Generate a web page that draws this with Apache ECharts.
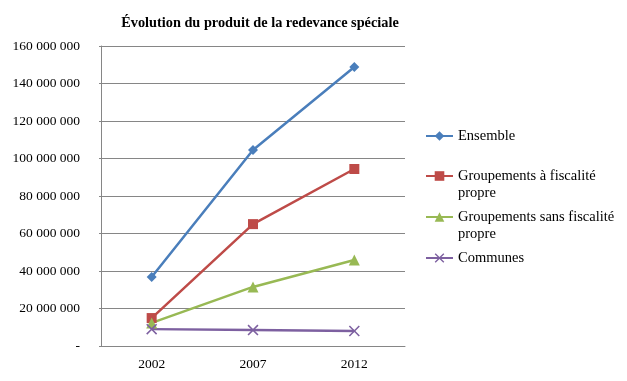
<!DOCTYPE html>
<html><head><meta charset="utf-8">
<script src="https://cdn.jsdelivr.net/npm/echarts@6/dist/echarts.min.js"></script>
<style>html,body{margin:0;padding:0;background:#fff}#c{width:627px;height:381px}</style>
</head><body><div id="c"></div>
<script>
const categories = ['2002', '2007', '2012'];
const seriesNames = ['Ensemble', 'Groupements à fiscalité propre', 'Groupements sans fiscalité propre', 'Communes'];
const legendLabels = ['Ensemble', '\nGroupements à fiscalité\npropre', '\nGroupements sans fiscalité\npropre', 'Communes'];
const ensemble = [36800000, 104500000, 148800000];
const groupementsFP = [14900000, 65000000, 94400000];
const groupementsSFP = [12300000, 31500000, 45900000];
const communes = [9000000, 8500000, 8000000];

const colors = ['#4A7EBB', '#BE4B48', '#98B954', '#7D60A0'];
const symbols = ['diamond', 'rect', 'triangle', 'path://M0,1L1,0L5,4L9,0L10,1L6,5L10,9L9,10L5,6L1,10L0,9L4,5Z'];
const symbolSizes = [10, 10, 11, 11];
const values = [ensemble, groupementsFP, groupementsSFP, communes];
const font = 'Liberation Serif';

function fmt(v) {
  if (v === 0) return '-';
  return String(v).replace(/\B(?=(\d{3})+(?!\d))/g, ' ');
}

const legendTops = [122.5, 145.5, 186.5, 244.5];
const chart = echarts.init(document.getElementById('c'));
chart.setOption({
  animation: false,
  title: {
    text: 'Évolution du produit de la redevance spéciale',
    left: 255, textAlign: 'center', top: 11,
    textStyle: { fontFamily: font, fontSize: 14.3, fontWeight: 'bold', color: '#000' }
  },
  legend: seriesNames.map((n, i) => ({
    left: 420, top: legendTops[i], orient: 'vertical',
    itemWidth: 27, itemHeight: 12, selectedMode: false,
    data: [{ name: n }],
    formatter: () => legendLabels[i],
    textStyle: { fontFamily: font, fontSize: 14.5, color: '#000', lineHeight: 17 }
  })),
  grid: { left: 101, right: 222, top: 46, bottom: 35 },
  xAxis: {
    type: 'category', data: categories, boundaryGap: true,
    axisLine: { lineStyle: { color: '#868686', width: 1 } },
    axisTick: { show: false },
    axisLabel: { fontFamily: font, fontSize: 13.5, color: '#000', margin: 11 }
  },
  yAxis: {
    type: 'value', min: 0, max: 160000000, interval: 20000000,
    axisLine: { show: true, lineStyle: { color: '#868686', width: 1 } },
    axisTick: { show: true, length: 2, lineStyle: { color: '#868686' } },
    splitLine: { lineStyle: { color: '#868686', width: 1 } },
    axisLabel: { fontFamily: font, fontSize: 13.5, color: '#000', margin: 21, formatter: fmt }
  },
  series: seriesNames.map((n, i) => ({
    name: n, type: 'line', data: values[i],
    symbol: symbols[i], symbolSize: symbolSizes[i], showSymbol: true,
    lineStyle: { color: colors[i], width: 2.5 },
    itemStyle: { color: colors[i] },
    emphasis: { disabled: true }
  }))
});
</script></body></html>
